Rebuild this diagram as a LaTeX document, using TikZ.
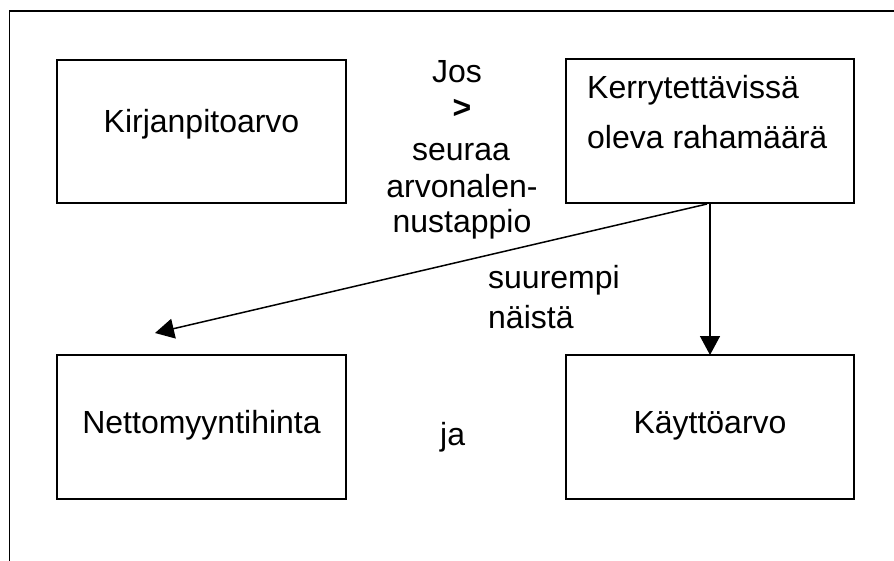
\documentclass[tikz,border=0pt]{standalone}
\usepackage{fontspec}
\setmainfont{Liberation Sans}
\usetikzlibrary{arrows.meta}
\begin{document}
\begin{tikzpicture}[x=1pt,y=-1pt,
  box/.style={draw,line width=1.5pt},
  lbl/.style={inner sep=0pt,anchor=base,font=\fontsize{32}{38}\selectfont},
  lbll/.style={lbl,anchor=base west},
  conn/.style={line width=1.5pt,-{Triangle[length=19pt,width=20pt]}}]
\useasboundingbox (0,0) rectangle (894,560);
\draw[line width=1.8pt] (9.5,600) -- (9.5,11) -- (900,11);
% boxes
\draw[box] (57,60) rectangle (346,203);
\draw[box] (566,59) rectangle (854,203);
\draw[box] (57,355) rectangle (346,499);
\draw[box] (566,355) rectangle (854,499);
\coordinate (kbox) at (710,203);
\coordinate (ktop) at (710,355);
\coordinate (ntip) at (155,333);
\coordinate (kstart) at (707,204);
% texts
\node[lbl] (kirj) at (201.5,132) {Kirjanpitoarvo};
\node[lbll] (ker1) at (587,98) {Kerrytettävissä};
\node[lbll] (ker2) at (587,148) {oleva rahamäärä};
\node[lbl] (netto) at (201.5,433) {Nettomyyntihinta};
\node[lbl] (kaytto) at (710,433) {Käyttöarvo};
\node[lbl] (jos) at (457,82) {Jos};
\node[lbl,font=\fontsize{32}{38}\selectfont\bfseries] (gt) at (462,118) {>};
\node[lbl] (seuraa) at (461,160) {seuraa};
\node[lbl] (arvo) at (462,197) {arvonalen-};
\node[lbl] (nusta) at (462,232) {nustappio};
\node[lbll] (suur) at (488,288) {suurempi};
\node[lbll] (nais) at (488,328) {näistä};
\node[lbll] (ja) at (440,445) {ja};
% connectors
\draw[conn] (kbox) -- (ktop);
\draw[conn] (kstart) -- (ntip);
\end{tikzpicture}
\end{document}
